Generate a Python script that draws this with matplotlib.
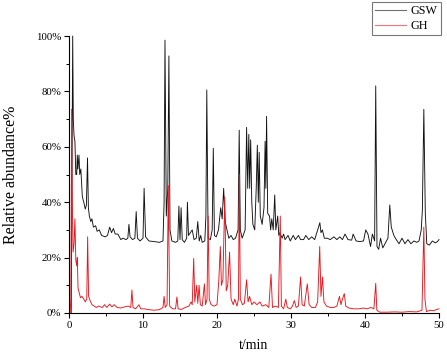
import matplotlib
matplotlib.use("Agg")
import matplotlib.pyplot as plt
from matplotlib.ticker import MultipleLocator

# ---- data, time in min, abundance in % ----
gsw_t = [0.30, 0.42, 0.50, 0.58, 0.68, 0.80, 0.92, 1.04, 1.12, 1.20, 1.35, 1.45, 1.60, 1.80, 2.00, 2.20,
         2.35, 2.50, 2.62, 2.75, 2.95, 3.10, 3.30, 3.60, 3.80, 4.10, 4.40, 4.90, 5.20, 5.50, 5.75, 6.00,
         6.25, 6.60, 7.00, 7.30, 7.70, 7.95, 8.10, 8.25, 8.60, 8.90, 9.08, 9.25, 9.60, 10.00, 10.15, 10.35,
         10.80, 11.50, 12.20, 12.70, 12.85, 12.97, 13.15, 13.35, 13.50, 13.65, 13.90, 14.40, 14.70, 14.85,
         15.00, 15.15, 15.30, 15.60, 15.90, 16.00, 16.15, 16.40, 16.65, 16.90, 17.20, 17.40, 17.60, 17.80,
         18.00, 18.35, 18.50, 18.62, 18.80, 19.10, 19.35, 19.50, 19.65, 19.90, 20.20, 20.50, 20.70, 20.90,
         21.10, 21.35, 21.60, 21.90, 22.20, 22.50, 22.85, 23.00, 23.15, 23.40, 23.80, 24.00, 24.15, 24.30,
         24.42, 24.55, 24.70, 24.85, 25.10, 25.30, 25.45, 25.58, 25.70, 25.85, 26.10, 26.35, 26.50, 26.60,
         26.70, 26.85, 27.10, 27.25, 27.40, 27.60, 27.80, 27.95, 28.20, 28.35, 28.50, 28.80, 29.00, 29.20,
         29.60, 29.90, 30.30, 30.60, 31.00, 31.30, 31.70, 32.00, 32.40, 32.80, 33.20, 33.55, 33.90, 34.05,
         34.25, 34.50, 34.90, 35.30, 35.80, 36.20, 36.60, 36.95, 37.30, 37.70, 38.20, 38.40, 38.80, 39.30,
         39.80, 40.10, 40.40, 40.75, 41.00, 41.30, 41.45, 41.62, 41.85, 42.10, 42.40, 42.70, 43.10, 43.35,
         43.55, 43.90, 44.20, 44.60, 45.00, 45.40, 45.80, 46.20, 46.60, 47.00, 47.30, 47.60, 47.75, 47.95,
         48.15, 48.35, 48.70, 49.10, 49.50, 49.80, 50.00]
gsw_v = [0, 60, 100, 70, 64, 62, 50, 50, 57, 52, 57, 50, 52, 42, 40, 37.5,
         39, 56, 38, 35, 33, 34, 31, 31.5, 29.5, 30, 28, 27.5, 28, 31, 29, 30.5,
         28.5, 28.5, 26.5, 27, 26.5, 27, 32, 27.5, 26.5, 27, 36.6, 27, 26, 27, 45, 27.5,
         26, 25.8, 25.5, 26, 40, 98.5, 35, 45, 92.8, 30, 26, 25.5, 26, 38.6,
         26.5, 38, 26.5, 25.5, 27, 40, 28, 29, 30, 26.5, 27, 33, 26, 28,
         25.5, 26, 35, 80.5, 27, 26.5, 30, 59.5, 28, 27.5, 30, 38, 34, 45,
         33, 30, 27, 28, 26.5, 27, 30, 66, 30, 27, 30, 67, 45, 64.5,
         45, 62.5, 40, 32, 30, 45, 60.6, 40, 58, 35, 32, 38, 62, 45,
         71, 36, 35, 30, 34, 30, 42.6, 30, 35, 28, 29, 27, 28.5, 26.5,
         28, 26, 28, 26.5, 28, 26.5, 26.5, 28, 26.5, 27.5, 26.5, 29.5, 32.6, 29,
         30, 27, 27, 26.5, 27.5, 26.5, 27.5, 26.5, 28.5, 26.5, 26.3, 28.5, 26, 25.8,
         26, 30, 28.5, 24, 28.5, 26, 82, 24, 23, 27, 23.5, 25, 27, 39,
         31, 28, 26.6, 25, 27, 25, 26.5, 25, 26, 25.5, 26, 30, 37, 73.5,
         36, 25, 24.5, 26, 25.3, 25.8, 26.5]

gh_t = [0.15, 0.25, 0.36, 0.45, 0.55, 0.68, 0.80, 0.92, 1.05, 1.12, 1.22, 1.40, 1.55, 1.75, 2.00, 2.20,
        2.40, 2.52, 2.65, 2.85, 3.10, 3.40, 3.70, 4.00, 4.50, 4.80, 5.10, 5.50, 5.80, 6.10, 6.50, 7.00,
        7.50, 8.00, 8.35, 8.50, 8.65, 9.00, 9.45, 9.70, 10.20, 10.80, 11.50, 12.20, 12.70, 12.85, 13.00,
        13.25, 13.42, 13.60, 14.00, 14.40, 14.58, 14.75, 15.20, 15.70, 16.20, 16.50, 16.65, 16.85, 17.00,
        17.25, 17.40, 17.58, 17.75, 18.00, 18.30, 18.45, 18.65, 18.80, 18.95, 19.20, 19.60, 20.00, 20.25,
        20.45, 20.60, 20.80, 21.05, 21.25, 21.45, 21.70, 21.90, 22.20, 22.40, 22.70, 22.90, 23.02, 23.15,
        23.45, 23.70, 24.00, 24.20, 24.40, 24.70, 25.00, 25.40, 25.80, 26.10, 26.60, 27.00, 27.30, 27.50,
        27.90, 28.30, 28.55, 28.70, 29.00, 29.30, 29.50, 29.90, 30.20, 30.45, 30.70, 31.00, 31.30, 31.50,
        31.80, 32.20, 32.45, 32.80, 33.30, 33.60, 33.88, 34.05, 34.25, 34.45, 34.80, 35.30, 35.80, 36.20,
        36.55, 36.75, 36.95, 37.20, 37.40, 37.80, 38.50, 39.20, 39.80, 40.30, 40.80, 41.20, 41.45, 41.60,
        42.00, 43.00, 44.00, 45.00, 46.00, 47.00, 47.70, 47.95, 48.10, 48.30, 48.80, 49.30, 49.70, 50.00]
gh_v = [0, 5, 73.6, 40, 22, 25, 34, 19, 17, 20, 9, 7, 5.5, 6, 5, 4,
        5, 27.5, 6, 4.5, 3, 2.5, 2, 2.5, 2, 3, 2, 3.2, 2.2, 3, 2, 1.8,
        2.2, 2.5, 2, 8.3, 2, 1.5, 3, 1.5, 1.5, 1.2, 1, 1.2, 2, 6, 2,
        3, 46, 2.5, 1.5, 1.5, 5.8, 1.5, 1.3, 2, 2.5, 4, 3, 19.7, 4,
        10, 3.5, 10, 3, 2.5, 10.5, 3, 5, 35, 5, 3, 2.5, 3, 12,
        24, 10, 12, 42, 8, 10, 22, 5, 3, 5, 2.5, 5, 50, 5,
        3, 3.5, 12, 4, 6, 3, 4, 3, 4, 2.5, 3, 2, 14, 2,
        2.5, 2, 35, 2.5, 1.5, 5, 2, 1.5, 2.5, 4.5, 2, 2.5, 13, 3,
        2.5, 10.5, 3, 2, 2, 4, 24, 6, 13, 4, 2.5, 2, 2, 2.5,
        6, 3, 5, 7, 2.5, 1.8, 1.5, 1.5, 1.8, 1.5, 2, 1.5, 10.7, 1,
        0.3, 0.3, 0.4, 0.3, 0.5, 0.4, 1, 31, 5, 0.5, 1, 0.8, 1.3, 1.5]

series_names = ["GSW", "GH"]
x_ticks = [0, 10, 20, 30, 40, 50]
y_ticks = [0, 20, 40, 60, 80, 100]
y_tick_labels = ["0%", "20%", "40%", "60%", "80%", "100%"]

# ---- figure ----
plt.rcParams["font.family"] = ["Liberation Serif", "DejaVu Serif"]
fig = plt.figure(figsize=(4.47, 3.58), dpi=100)
ax = fig.add_axes([69 / 447, 1 - 313 / 358, (439 - 69) / 447, (313 - 36) / 358])

ax.plot(gsw_t, gsw_v, color="#111111", lw=0.65, label=series_names[0], clip_on=False)
ax.plot(gh_t, gh_v, color="#e8141c", lw=0.65, label=series_names[1], clip_on=False)

ax.set_xlim(0, 50)
ax.set_ylim(0, 100)
ax.set_xticks(x_ticks)
ax.set_xticklabels([str(t) for t in x_ticks])
ax.set_yticks(y_ticks)
ax.set_yticklabels(y_tick_labels)
ax.xaxis.set_minor_locator(MultipleLocator(5))
ax.yaxis.set_minor_locator(MultipleLocator(10))
ax.tick_params(which="major", direction="out", length=3.5, width=0.8, labelsize=7.8, pad=2)
ax.tick_params(which="minor", direction="out", length=2, width=0.7)
for s in ["top", "right"]:
    ax.spines[s].set_visible(False)
for s in ["left", "bottom"]:
    ax.spines[s].set_linewidth(0.8)

ax.set_xlabel("t/min", fontsize=10, labelpad=7)
ax.set_ylabel("Relative abundance%", fontsize=11.5, labelpad=12)

leg = fig.legend(loc="upper right", bbox_to_anchor=(441 / 447, 1 - 2 / 358), fontsize=8.7,
                 frameon=True, fancybox=False, edgecolor="#555555", borderpad=0.25,
                 handlelength=2.6, handletextpad=0.4, labelspacing=0.25, borderaxespad=0)
leg.get_frame().set_linewidth(0.8)
for h in leg.get_lines():
    h.set_linewidth(0.8)
    h.set_alpha(0.6)

fig.savefig("out.png", dpi=100)
